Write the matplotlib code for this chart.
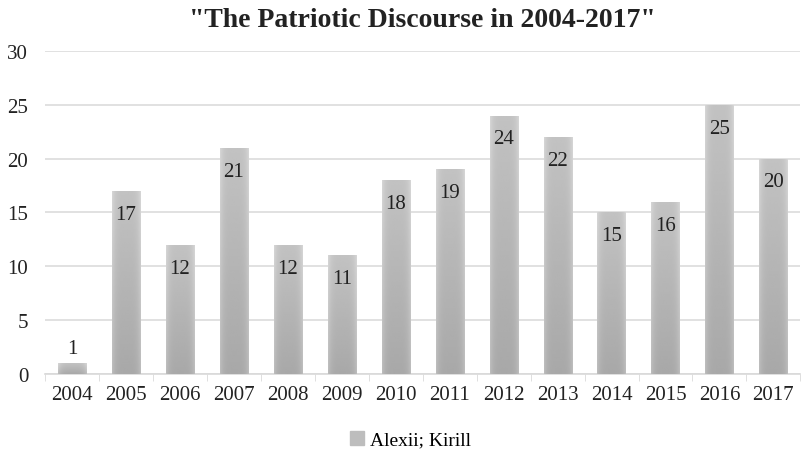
import numpy as np
import matplotlib
matplotlib.use('Agg')
import matplotlib.pyplot as plt
from matplotlib.patches import Patch

years = ['2004', '2005', '2006', '2007', '2008', '2009', '2010',
         '2011', '2012', '2013', '2014', '2015', '2016', '2017']
counts = [1, 17, 12, 21, 12, 11, 18, 19, 24, 22, 15, 16, 25, 20]
series_name = 'Alexii; Kirill'
title = '"The Patriotic Discourse in 2004-2017"'

plt.rcParams['font.family'] = ['Liberation Serif', 'DejaVu Serif']

fig = plt.figure(figsize=(8.02, 4.56), dpi=100)
ax = fig.add_axes([0.056, 0.178, 0.942, 0.708])

x = np.arange(len(years))
bars = ax.bar(x, counts, width=0.52, color='#bdbdbd', zorder=2)

# soft gradient inside each bar (lighter at top and edges)
gx = np.linspace(-1, 1, 64)
gy = np.linspace(0, 1, 64)
GX, GY = np.meshgrid(gx, gy)
shade = 0.66 + 0.10 * GY + 0.08 * GX ** 4
for b in bars:
    x0, w, h = b.get_x(), b.get_width(), b.get_height()
    im = ax.imshow(shade, cmap='gray', vmin=0, vmax=1, origin='lower',
                   extent=[x0, x0 + w, 0, h], aspect='auto', zorder=3,
                   interpolation='bilinear')
    im.set_clip_path(b)

for xi, v in zip(x, counts):
    if v < 3:
        ax.annotate(str(v), (xi, v), xytext=(0, 4), textcoords='offset points',
                    ha='center', va='bottom', fontsize=15, color='#222222', zorder=4)
    else:
        ax.annotate(str(v), (xi, v), xytext=(0, -10), textcoords='offset points',
                    ha='center', va='top', fontsize=15, color='#222222', zorder=4)

ax.set_xlim(-0.5, len(years) - 0.5)
ax.set_ylim(0, 30)
ax.set_yticks(range(0, 31, 5))
ax.set_xticks(x)
ax.set_xticklabels(years)
ax.set_xticks(np.arange(-0.5, len(years), 1), minor=True)
ax.tick_params(axis='x', which='major', length=0, labelsize=15, pad=8, colors='#222222')
ax.tick_params(axis='x', which='minor', length=5, color='#d9d9d9')
ax.tick_params(axis='y', length=0, labelsize=15, pad=12, colors='#222222')
ax.grid(axis='y', color='#dcdcdc', linewidth=1.2, zorder=0)
ax.set_axisbelow(True)
for s in ['top', 'right', 'left']:
    ax.spines[s].set_visible(False)
ax.spines['bottom'].set_color('#d9d9d9')
ax.spines['bottom'].set_linewidth(1.2)

ax.set_title(title, fontsize=20, fontweight='bold', color='#222222', pad=18)

fig.legend(handles=[Patch(color='#bdbdbd', label=series_name)],
           loc='center', bbox_to_anchor=(0.512, 0.033), frameon=False,
           fontsize=14, handlelength=0.7, handleheight=0.7, handletextpad=0.3)

fig.savefig('out.png', dpi=100)
